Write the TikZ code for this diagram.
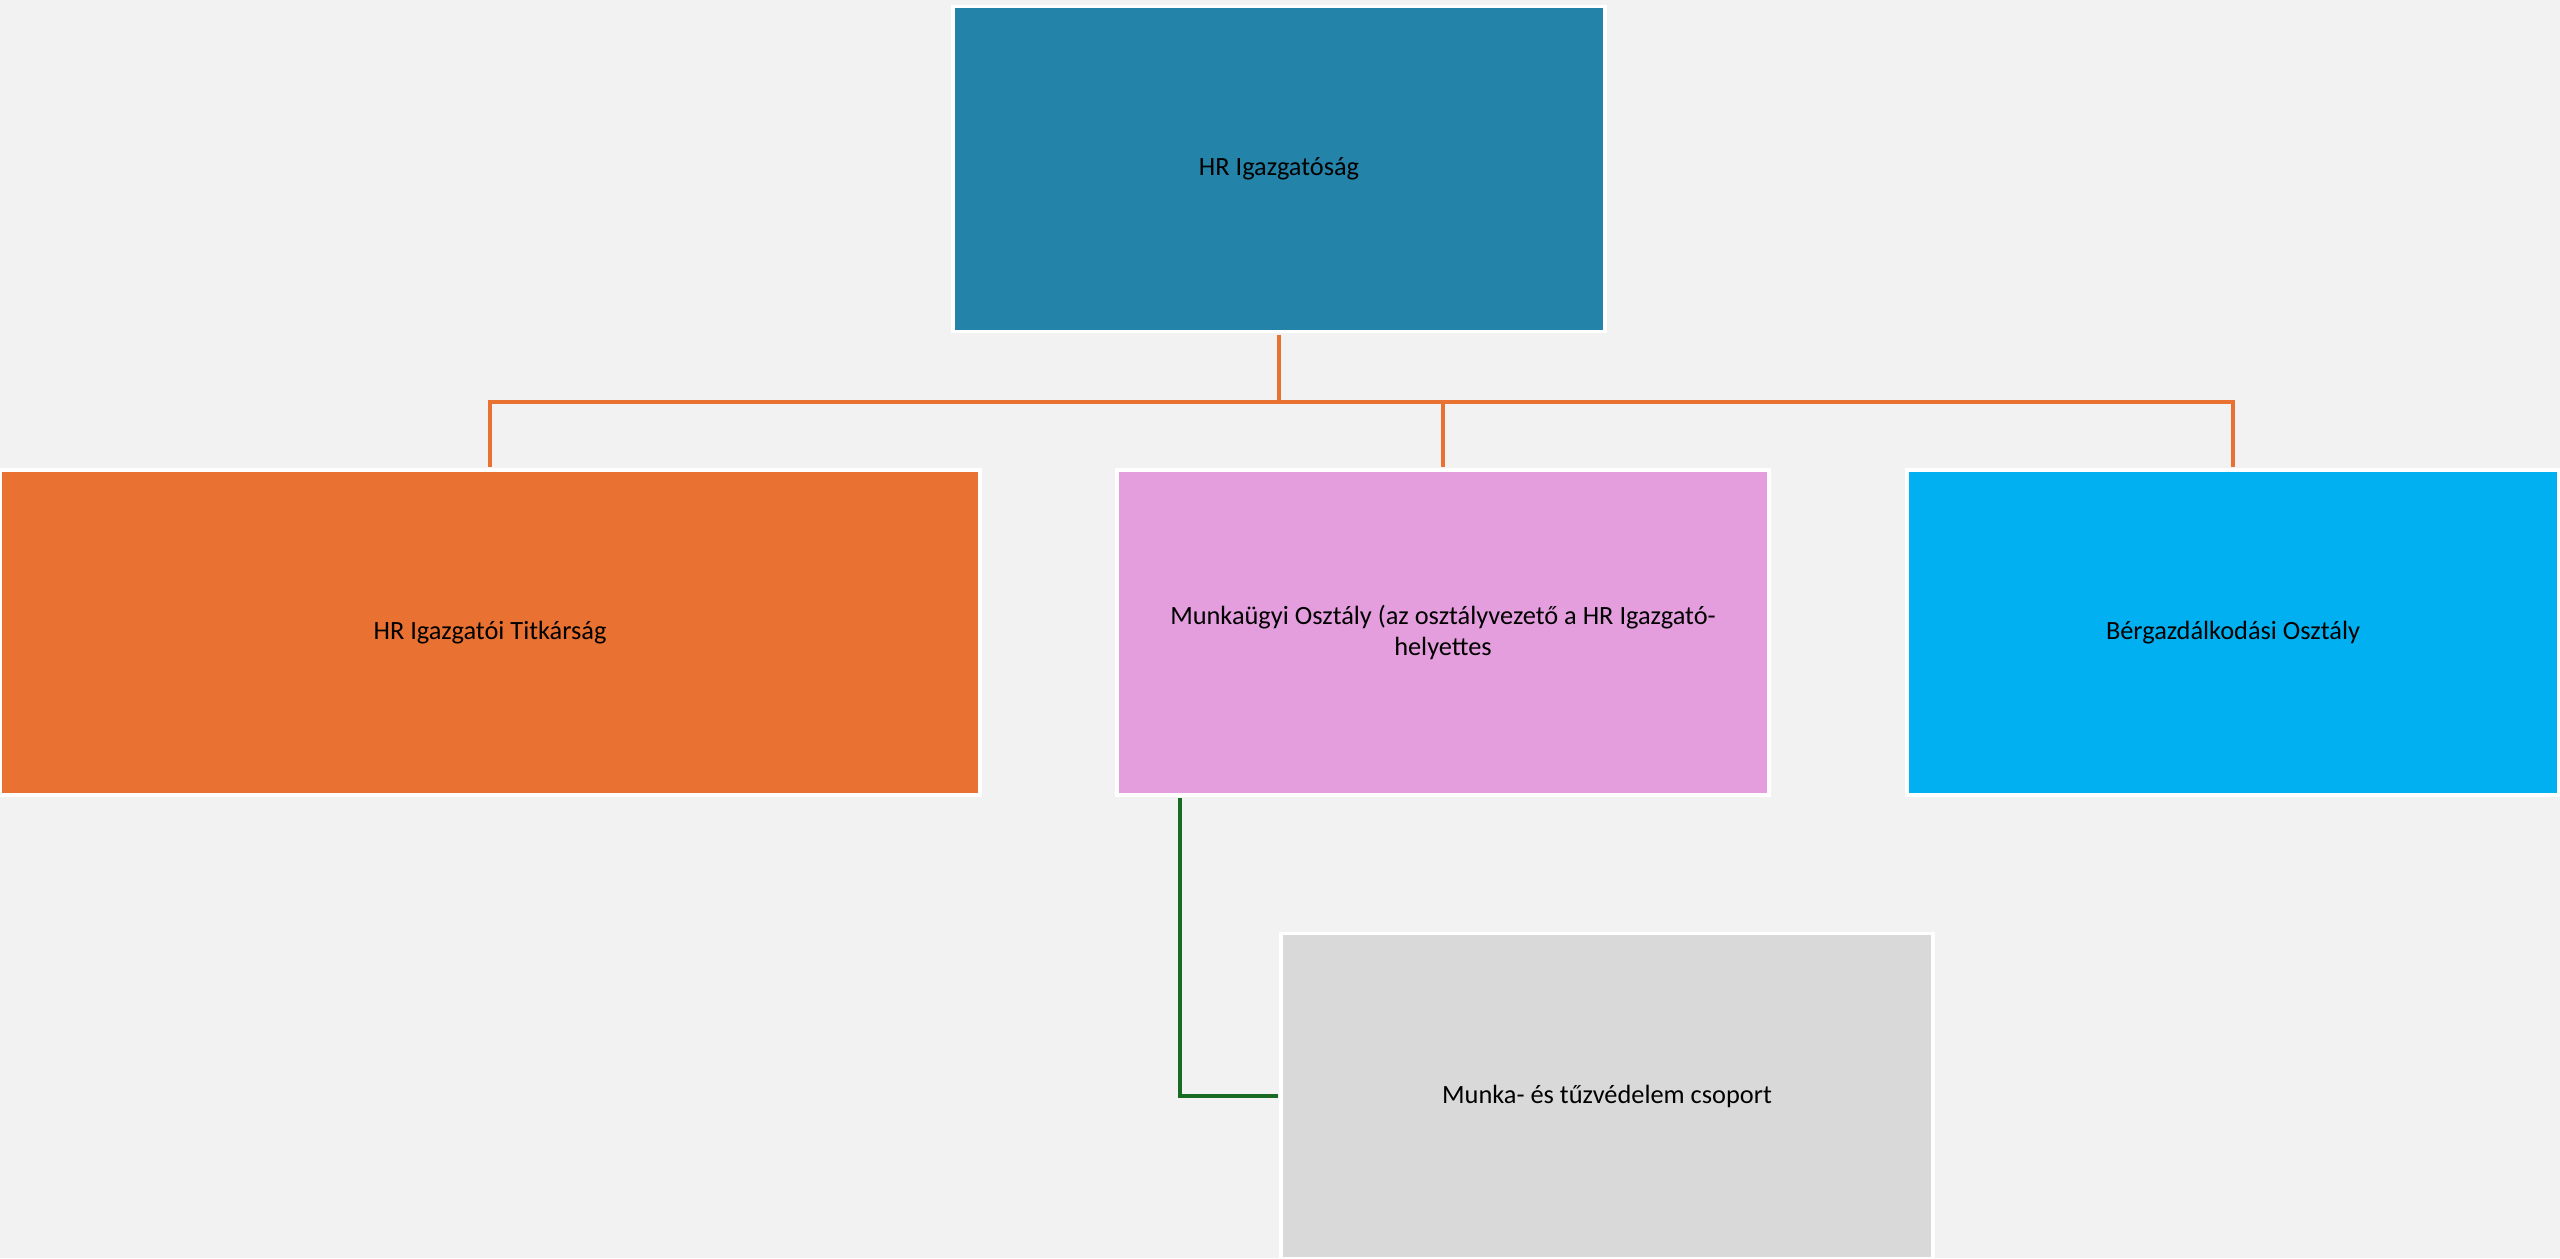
\documentclass[tikz,border=0pt]{standalone}
\usepackage{fontspec}
\setmainfont{Carlito}
\usepackage{tikz}
\usetikzlibrary{shapes.geometric, arrows}
\definecolor{bgcol}{HTML}{F2F2F2}
\definecolor{topblue}{HTML}{2383A9}
\definecolor{orgorange}{HTML}{E97132}
\definecolor{pinkbox}{HTML}{E49EDD}
\definecolor{skyblue}{HTML}{00B0F0}
\definecolor{greybox}{HTML}{D9D9D9}
\definecolor{subgreen}{HTML}{196B24}
\tikzstyle{unit} = [rectangle, minimum width=6.52cm, minimum height=3.25cm, text centered, align=center, draw=white, line width=0.9pt, text=black, font=\fontsize{7.5}{8.6}\selectfont]
\tikzstyle{orgline} = [draw=orgorange, line width=1.1pt]
\tikzstyle{subline} = [draw=subgreen, line width=1.1pt, shorten <=0.5pt, shorten >=0.5pt]

\begin{document}
\begin{tikzpicture}[node distance=2cm]
        \fill[bgcol] (0,0) rectangle (25.6,12.58);
        \useasboundingbox (0,0) rectangle (25.6,12.58);

        % Nodes
        \node (igazg) [unit, fill=topblue] at (12.79,10.89) {HR Igazgatóság};
        \node (munkaugy) [unit, fill=pinkbox, below of=igazg, xshift=1.64cm, yshift=-2.635cm] {Munkaügyi Osztály (az osztályvezető a HR Igazgató-\\helyettes};
        \node (titkar) [unit, fill=orgorange, minimum width=9.8cm, left of=munkaugy, xshift=-7.53cm] {HR Igazgatói Titkárság};
        \node (berg) [unit, fill=skyblue, right of=munkaugy, xshift=5.9cm] {Bérgazdálkodási Osztály};
        \node (vedelem) [unit, fill=greybox, below of=munkaugy, xshift=1.64cm, yshift=-2.635cm] {Munka- és tűzvédelem csoport};

        % Connectors
        \draw [orgline, shorten <=0.5pt] (igazg.south) -- ++(0,-0.685) coordinate (hub);
        \draw [orgline, shorten >=0.5pt] (hub) -| (titkar.north);
        \draw [orgline, shorten >=0.5pt] (hub) -| (munkaugy.north);
        \draw [orgline, shorten >=0.5pt] (hub) -| (berg.north);
        \draw [subline] ([xshift=0.65cm]munkaugy.south west) |- (vedelem.west);
\end{tikzpicture}
\end{document}
